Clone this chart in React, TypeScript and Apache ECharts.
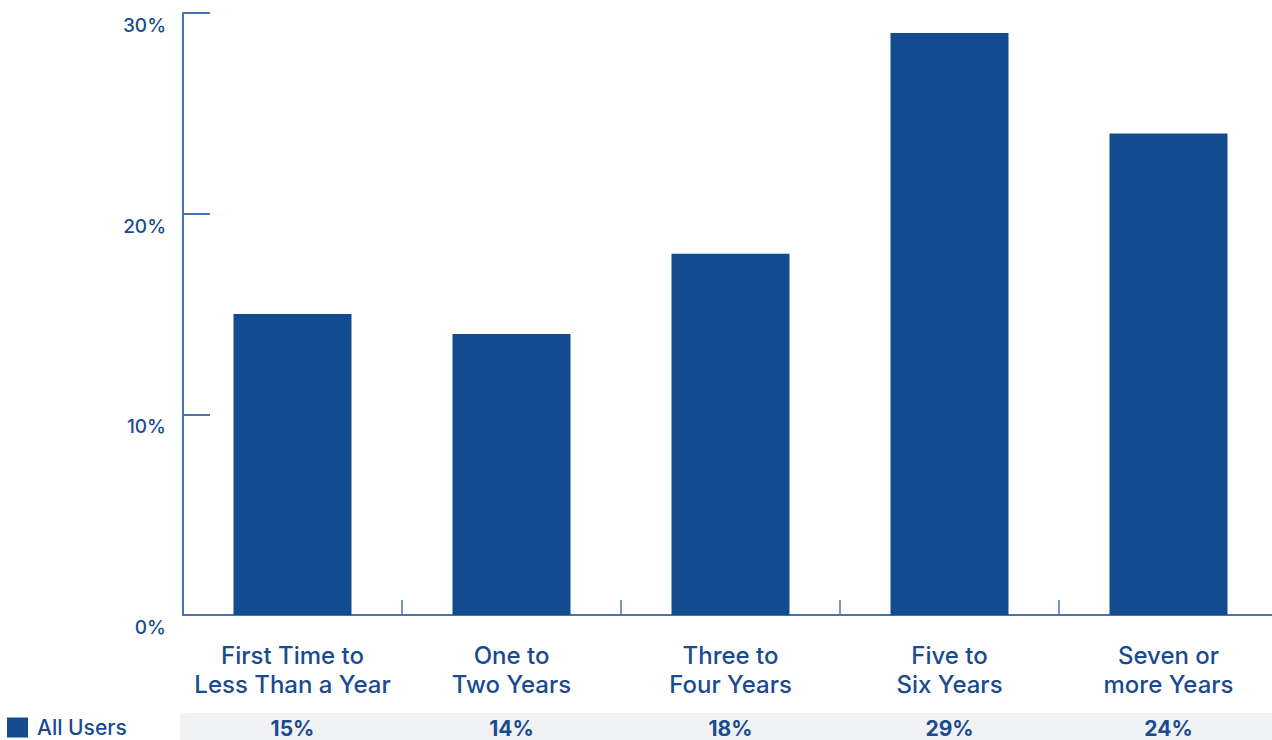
import React, { useEffect, useRef } from "react";
import * as echarts from "echarts";

const categories = [
  "First Time to\nLess Than a Year",
  "One to\nTwo Years",
  "Three to\nFour Years",
  "Five to\nSix Years",
  "Seven or\nmore Years",
];
const allUsers = [15, 14, 18, 29, 24];
const seriesName = "All Users";
const yTicks = [0, 10, 20, 30];

const BAR = "#124b8e";
const AXIS = "#4a73ad";
const TEXT = "#1b4b8f";
const FONT = "Inter, 'Noto Sans', sans-serif";

export default function App() {
  const ref = useRef<HTMLDivElement>(null);
  useEffect(() => {
    const chart = echarts.init(ref.current!, null, { renderer: "svg" });
    chart.setOption({
      animation: false,
      backgroundColor: "#ffffff",
      textStyle: { fontFamily: FONT },
      grid: { left: 183, width: 1095, top: 13, height: 602, containLabel: false },
      legend: {
        left: 7,
        top: 717,
        padding: 0,
        itemWidth: 21,
        itemHeight: 20,
        itemGap: 10,
        icon: "rect",
        data: [seriesName],
        textStyle: {
          color: TEXT,
          fontSize: 21,
          fontWeight: 500,
          fontFamily: FONT,
          lineHeight: 20,
          padding: [0, 0, 0, 4],
        },
      },
      graphic: [
        {
          type: "rect",
          z: -10,
          shape: { x: 180, y: 713, width: 1100, height: 30 },
          style: { fill: "#f1f2f4" },
        },
      ],
      xAxis: [
        {
          type: "category",
          data: categories,
          axisLine: { show: true, lineStyle: { color: AXIS, width: 2 } },
          axisTick: { show: true, interval: 0, inside: true, length: 15, lineStyle: { color: AXIS, width: 1.5 } },
          axisLabel: {
            interval: 0,
            color: TEXT,
            fontSize: 24,
            fontWeight: 500,
            lineHeight: 29,
            margin: 26,
            fontFamily: FONT,
          },
        },
        {
          type: "category",
          data: categories,
          position: "bottom",
          offset: 100,
          axisLine: { show: false },
          axisTick: { show: false },
          axisLabel: {
            interval: 0,
            color: TEXT,
            fontSize: 21,
            fontWeight: 700,
            lineHeight: 21,
            margin: 3,
            fontFamily: FONT,
            formatter: (_v: string, i: number) => allUsers[i] + "%",
          },
        },
      ],
      yAxis: {
        type: "value",
        min: yTicks[0],
        max: yTicks[yTicks.length - 1],
        interval: 10,
        splitLine: { show: false },
        axisLine: { show: true, lineStyle: { color: AXIS, width: 2 } },
        axisTick: { show: true, inside: true, length: 27, lineStyle: { color: AXIS, width: 2 } },
        axisLabel: {
          color: TEXT,
          fontSize: 19,
          fontWeight: 500,
          margin: 17,
          verticalAlign: "top",
          padding: [3, 0, 0, 0],
          fontFamily: FONT,
          formatter: (v: number) => v + "%",
        },
      },
      series: [
        {
          name: seriesName,
          type: "bar",
          data: allUsers,
          barWidth: 118,
          itemStyle: { color: BAR },
        },
      ],
    });
    return () => chart.dispose();
  }, []);
  return (
    <div style={{ position: "absolute", left: 0, top: 0, width: 1272, height: 740, overflow: "hidden" }}>
      <div ref={ref} style={{ width: 1280, height: 740 }} />
    </div>
  );
}
